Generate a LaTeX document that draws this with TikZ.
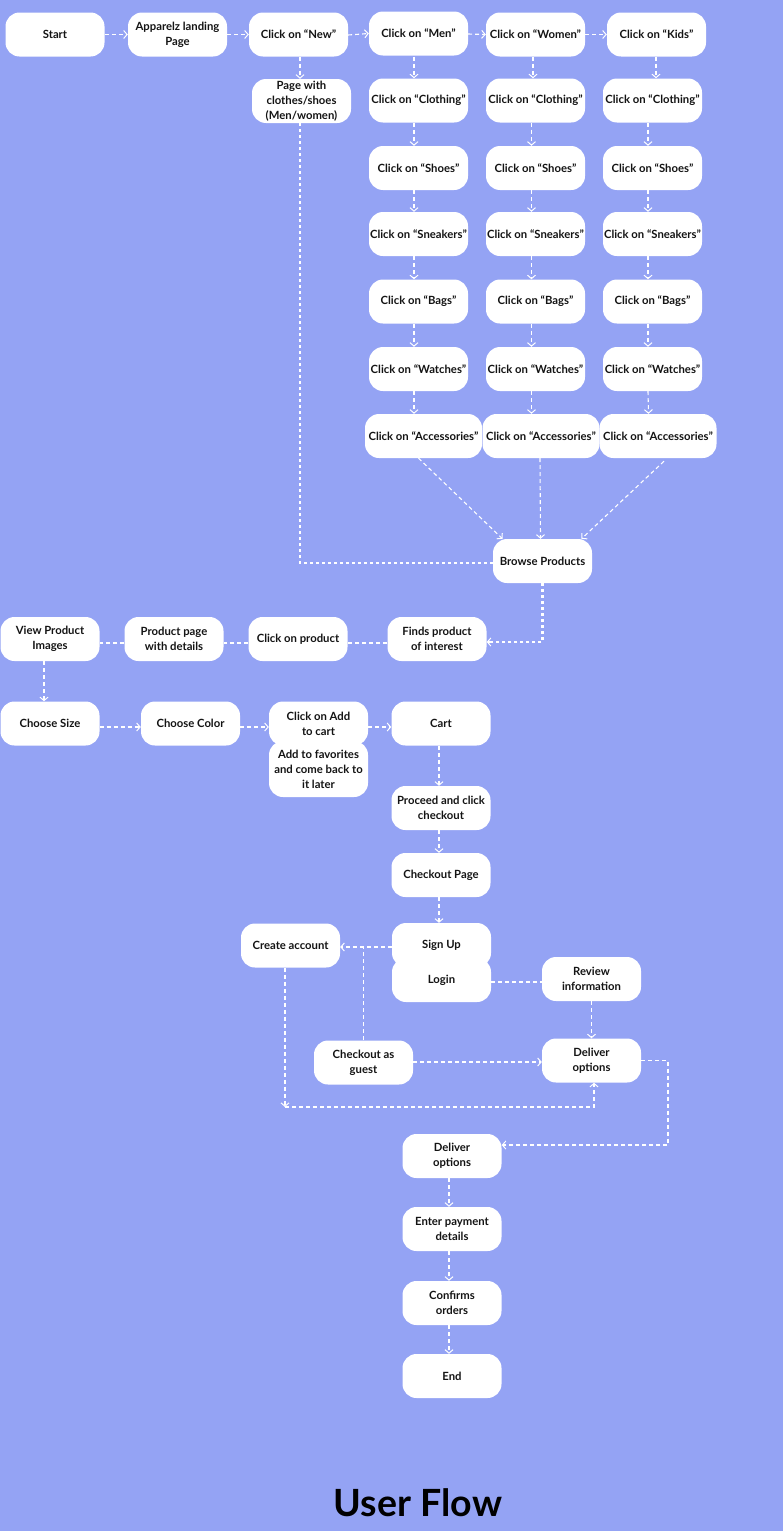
\documentclass[tikz,border=0pt]{standalone}
\usepackage{fontspec}
\setmainfont{Lato}
\usetikzlibrary{arrows.meta,calc}
\definecolor{bgc}{RGB}{148,163,244}
\definecolor{txt}{RGB}{20,20,20}
\begin{document}
\begin{tikzpicture}[x=1pt,y=-1pt,
  box/.style={draw=none,fill=white,rounded corners=14pt,minimum width=99pt,minimum height=44pt,
    inner sep=0pt,align=center,text=txt,font=\fontsize{11.3}{15}\selectfont\bfseries},
  wbox/.style={box,minimum width=117pt},
  conn/.style={draw=white,line width=1.1pt,dash pattern=on 4pt off 3pt},
  arr/.style={conn,-{Straight Barb[length=3.5pt,width=8pt,line width=1pt]}},
  thick dots/.style={draw=white,line width=2.3pt,dash pattern=on 3pt off 3pt}]
\fill[bgc] (0,0) rectangle (783,1531);
\useasboundingbox (0,0) rectangle (783,1531);

% top row
\node[box] (start) at (55,34.5) {Start};
\node[box] (app) at (177.5,34.5) {Apparelz landing\\Page};
\node[box] (new) at (298.5,34.5) {Click on “New”};
\node[box] (men) at (418.5,33.5) {Click on “Men”};
\node[box] (women) at (535.5,34.5) {Click on “Women”};
\node[box] (kids) at (656.5,34.5) {Click on “Kids"};
\node[box] (page) at (301.5,101) {Page with\\clothes/shoes\\(Men/women)};

% columns
\foreach \c/\x in {m/418.5,w/535.5,k/652.5}{
  \node[box] (\c1) at (\x,100.5) {Click on “Clothing"};
  \node[box] (\c2) at (\x,168) {Click on “Shoes"};
  \node[box] (\c3) at (\x,234) {Click on “Sneakers”};
  \node[box] (\c4) at (\x,301.5) {Click on “Bags"};
  \node[box] (\c5) at (\x,369) {Click on “Watches"};
}
\node[wbox] (m6) at (423.5,436) {Click on “Accessories"};
\node[wbox] (w6) at (541,436) {Click on “Accessories"};
\node[wbox] (k6) at (658,436) {Click on “Accessories"};

\node[box] (browse) at (542.5,561) {Browse Products};

% row 3
\node[box] (view) at (50,639) {View Product\\Images};
\node[box] (prod) at (174,639) {Product page\\with details};
\node[box] (clickp) at (298,639) {Click on product};
\node[box] (finds) at (437,639) {Finds product\\of interest};

% row 4
\node[box] (size) at (50,723.5) {Choose Size};
\node[box] (color) at (190.5,723.5) {Choose Color};
\node[box] (fav) at (318.5,769) [minimum height=56pt] {Add to favorites\\and come back to\\it later};
\node[box] (addc) at (318.5,723.5) {Click on Add\\to cart};
\node[box] (cart) at (441,723.5) {Cart};

\node[box] (proc) at (441,808) {Proceed and click\\checkout};
\node[box] (chk) at (441,875) {Checkout Page};
\node[box] (login) at (441.5,980) {Login};
\node[box] (signup) at (441.5,945) {Sign Up};
\node[box] (create) at (290.5,945.5) {Create account};
\node[box] (review) at (591.5,979) {Review\\information};
\node[box] (guest) at (363.5,1062.5) {Checkout as\\guest};
\node[box] (del1) at (591.5,1060.5) {Deliver\\options};

\node[box] (del2) at (452,1156) {Deliver\\options};
\node[box] (pay) at (452,1229) {Enter payment\\details};
\node[box] (conf) at (452,1303) {Confirms\\orders};
\node[box] (end) at (452,1376) {End};

\node[text=black,font=\fontsize{37.5}{42}\selectfont\bfseries] (title) at (418,1503) {User Flow};

% connectors top row
\draw[arr] (start.east) -- (app.west);
\draw[arr] (app.east) -- (new.west);
\draw[arr] ([yshift=-0.5pt]new.east) -- (men.west);
\draw[arr] ([yshift=-0.5pt]men.east) -- (women.west);
\draw[arr] (women.east) -- (kids.west);
\draw[arr] ([xshift=1.5pt]new.south) -- ([xshift=-1.5pt]page.north);

\draw[arr] ([xshift=-4.5pt,yshift=-1pt]men.south) -- ([xshift=-4.5pt]m1.north);
\draw[arr] ([xshift=-2.5pt]women.south) -- ([xshift=-2.5pt]w1.north);
\draw[arr] ([xshift=-0.5pt]kids.south) -- ([xshift=3.5pt]k1.north);
\foreach \c/\s in {m/-4.5,w/-4,k/-4.5}{
  \draw[arr] ([xshift=\s pt]\c1.south) -- ([xshift=\s pt]\c2.north);
  \draw[arr] ([xshift=\s pt]\c2.south) -- ([xshift=\s pt]\c3.north);
  \draw[arr] ([xshift=\s pt]\c3.south) -- ([xshift=\s pt]\c4.north);
  \draw[arr] ([xshift=\s pt]\c4.south) -- ([xshift=\s pt]\c5.north);
}
\draw[arr] ([xshift=-4.5pt]m5.south) -- ([xshift=-9.5pt]m6.north);
\draw[arr] ([xshift=-4pt]w5.south) -- ([xshift=-9.5pt]w6.north);
\draw[arr] ([xshift=-4.5pt]k5.south) -- ([xshift=-9.5pt]k6.north);

\draw[arr] ([xshift=-5pt]m6.south) -- ([xshift=-40pt]browse.north);
\draw[arr] ([xshift=-1pt]w6.south) -- ([xshift=-2pt]browse.north);
\draw[arr] ([xshift=6pt,yshift=-3pt]k6.south) -- ([xshift=39pt]browse.north);

\draw[thick dots] ([xshift=-1.5pt]page.south) |- ([yshift=-2pt]browse.west);
\draw[thick dots] (browse.south) |- ([xshift=4pt,yshift=-3pt]finds.east);
\draw[arr,solid] ([xshift=4pt,yshift=-3pt]finds.east) -- ([yshift=-3pt]finds.east);

% row 3
\draw[conn] ([yshift=-4pt]finds.west) -- ([yshift=-4pt]clickp.east);
\draw[conn] ([yshift=-4pt]clickp.west) -- ([yshift=-4pt]prod.east);
\draw[conn] ([yshift=-4pt]prod.west) -- ([yshift=-4pt]view.east);
\draw[arr] ([xshift=-6pt]view.south) -- ([xshift=-6pt]size.north);

% row 4
\draw[arr] ([yshift=-3.5pt]size.east) -- ([yshift=-3.5pt]color.west);
\draw[arr] ([yshift=-3.5pt]color.east) -- ([yshift=-3.5pt]addc.west);
\draw[arr] ([yshift=-3.5pt]addc.east) -- ([yshift=-3.5pt]cart.west);
\draw[arr] ([xshift=-2pt]cart.south) -- ([xshift=-2pt]proc.north);
\draw[arr] ([xshift=-2pt]proc.south) -- ([xshift=-2pt]chk.north);
\draw[arr] ([xshift=-2pt]chk.south) -- ([xshift=-2.5pt]signup.north);

% sign up area
\draw[arr] ([yshift=-2pt]signup.west) -- ([yshift=-1.5pt]create.east);
\coordinate (j1) at (363.5,947);
\draw[conn] (guest.north) -- (j1);
\draw[conn] ([yshift=-2pt]login.east) -- ([yshift=-3pt]review.west);
\draw[arr] (review.south) -- (del1.north);
\draw[arr] ([yshift=0.5pt]guest.east) -- ([yshift=-1.5pt]del1.west);
\coordinate (c1) at (285,1107);
\draw[arr] ([xshift=-5.5pt]create.south) -- (c1);
\draw[arr] (c1) -| ([xshift=2.5pt]del1.south);
\draw[arr] (del1.east) -| (668,1145) -- ([yshift=11pt]del2.east);

% bottom column
\draw[arr] ([xshift=-3pt]del2.south) -- ([xshift=-3pt]pay.north);
\draw[arr] ([xshift=-3pt]pay.south) -- ([xshift=-3pt]conf.north);
\draw[arr] ([xshift=-3pt]conf.south) -- ([xshift=-3pt]end.north);
\end{tikzpicture}
\end{document}
